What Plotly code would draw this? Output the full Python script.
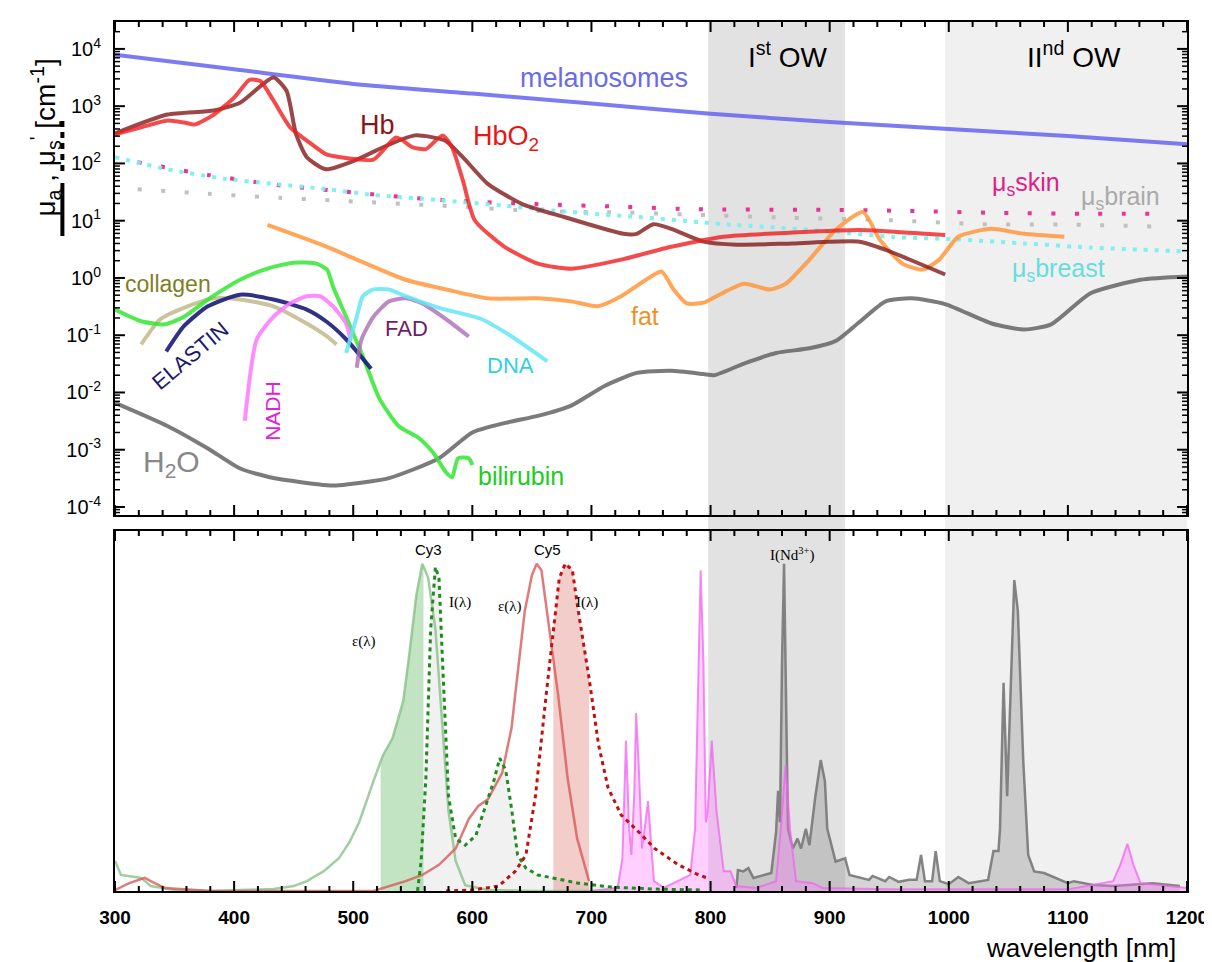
import plotly.graph_objects as go

# ---------------- top panel data (wavelength nm, coefficient cm^-1) ----------------
MEL_NM = [300, 400, 500, 600, 700, 800, 900, 1000, 1100, 1200]
MEL = [7900, 4400, 2450, 1660, 1110, 740, 530, 400, 300, 217]

HB_NM = [300, 344, 383, 405, 433, 444, 452, 461, 477, 502, 530, 552, 577, 592, 613, 642, 677,
         727, 738, 752, 767, 794, 822, 869, 925, 947, 967, 997]
HB = [334, 714, 840, 1148, 3162, 1862, 324, 129, 79, 114, 214, 309, 251, 129, 44, 19.5, 11.6,
      5.9, 5.9, 8.7, 7.2, 4.3, 3.8, 4.0, 4.3, 3.1, 2.1, 1.15]

HBO2_NM = [300, 322, 344, 358, 367, 383, 400, 413, 422, 433, 447, 461, 477, 488, 517, 536, 550,
           561, 575, 583, 592, 602, 627, 655, 683, 725, 767, 811, 869, 925, 980, 997]
HBO2 = [321, 427, 562, 519, 479, 714, 1413, 2884, 2754, 1259, 427, 251, 145, 129, 117, 285, 191,
        178, 309, 191, 51, 10.2, 3.5, 1.78, 1.45, 2.09, 3.5, 5.25, 6.2, 6.9, 5.9, 5.6]

FAT_NM = [428, 478, 503, 544, 578, 613, 655, 683, 705, 725, 750, 759, 769, 780, 794, 805, 828,
          850, 863, 883, 905, 928, 942, 961, 978, 992, 1008, 1036, 1063, 1097]
FAT = [8.45, 3.5, 2.09, 0.93, 0.63, 0.44, 0.44, 0.39, 0.32, 0.48, 1.06, 1.29, 0.63, 0.36, 0.37,
       0.48, 0.79, 0.63, 0.79, 2.09, 6.9, 14.1, 4.7, 1.78, 1.40, 2.09, 5.25, 7.2, 5.9, 5.25]

H2O_NM = [300, 344, 378, 405, 433, 478, 488, 530, 572, 600, 628, 655, 683, 711, 738, 767, 794,
          803, 828, 855, 883, 905, 925, 947, 969, 997, 1036, 1063, 1086, 1119, 1161, 1200]
H2O = [6.6e-3, 2.6e-3, 1.05e-3, 4.7e-4, 3.2e-4, 2.4e-4, 2.4e-4, 3.2e-4, 7.1e-4, 2.0e-3, 2.95e-3,
       3.9e-3, 5.9e-3, 0.013, 0.022, 0.024, 0.021, 0.020, 0.032, 0.049, 0.059, 0.079, 0.17, 0.39,
       0.44, 0.35, 0.16, 0.126, 0.155, 0.54, 0.93, 1.06]

BILI_NM = [300, 322, 342, 358, 378, 405, 428, 450, 469, 478, 483, 494, 508, 522, 538, 555, 567,
           578, 583, 588, 597, 600]
BILI = [0.28, 0.175, 0.155, 0.21, 0.42, 0.93, 1.46, 1.85, 1.78, 1.40, 0.71, 0.21, 0.043, 7.8e-3,
        2.6e-3, 1.6e-3, 8.9e-4, 4.0e-4, 3.3e-4, 7.1e-4, 7.1e-4, 5.4e-4]

COLL_NM = [322, 338, 361, 383, 405, 433, 461, 478, 486]
COLL = [0.069, 0.19, 0.32, 0.44, 0.42, 0.32, 0.16, 0.095, 0.069]

ELAS_NM = [343, 358, 378, 405, 433, 461, 478, 494, 515]
ELAS = [0.052, 0.145, 0.32, 0.51, 0.42, 0.28, 0.17, 0.085, 0.026]

NADH_NM = [409, 419, 433, 447, 461, 472, 483, 494, 498]
NADH = [3.2e-3, 0.085, 0.21, 0.36, 0.48, 0.48, 0.32, 0.16, 0.08]

FAD_NM = [503, 507, 517, 530, 544, 558, 578, 597]
FAD = [0.027, 0.085, 0.21, 0.39, 0.44, 0.36, 0.19, 0.095]

DNA_NM = [494, 503, 508, 517, 530, 544, 572, 608, 633, 663]
DNA = [0.049, 0.21, 0.48, 0.63, 0.63, 0.48, 0.30, 0.19, 0.095, 0.035]

SKIN_NM = [319, 378, 436, 494, 572, 653, 730, 790, 888, 967, 1046, 1124, 1183]
SKIN = [105, 63, 42, 32, 23, 19.5, 17.4, 15.8, 15.5, 14.8, 13.6, 13.2, 13.2]

BRAIN_NM = [319, 378, 438, 496, 575, 654, 732, 792, 869, 950, 1028, 1107, 1186]
BRAIN = [35.5, 29.5, 25.1, 21.9, 18.2, 14.8, 13.8, 12.6, 11.2, 10.2, 8.7, 8.5, 7.8]

BREAST_NM = [300, 344, 392, 433, 478, 517, 572, 628, 683, 738, 811, 897, 953, 1008, 1063, 1119, 1200]
BREAST = [129, 79, 54, 44, 35.5, 28.2, 22.9, 18.2, 14.1, 11.7, 8.7, 6.6, 5.2, 4.7, 4.0, 3.4, 2.9]

# ---------------- bottom panel data (normalised intensity) ----------------
CY3_EPS_NM = [300, 305, 311, 322, 330, 350, 380, 433, 450, 461, 475, 488, 497, 505, 517, 525, 533,
              542, 547, 553, 558, 563, 569, 575, 580, 586, 594, 613, 650, 720]
CY3_EPS = [0.092, 0.049, 0.046, 0.04, 0.015, 0.003, 0.0, 0.006, 0.015, 0.03, 0.06, 0.10, 0.15, 0.21,
           0.336, 0.415, 0.467, 0.58, 0.72, 0.905, 1.0, 0.956, 0.80, 0.50, 0.244, 0.092, 0.018,
           0.003, 0.0, 0.0]

CY3_EM_NM = [554, 557, 561, 565, 569, 572, 575, 580, 586, 594, 603, 611, 618, 623, 628, 633, 638,
             645, 655, 689, 717, 753, 794]
CY3_EM = [0.0, 0.092, 0.345, 0.80, 0.99, 0.956, 0.70, 0.29, 0.16, 0.14, 0.17, 0.26, 0.336, 0.406,
          0.37, 0.25, 0.11, 0.07, 0.049, 0.024, 0.012, 0.006, 0.003]

CY5_EPS_NM = [300, 312, 325, 330, 342, 380, 517, 544, 558, 572, 586, 597, 605, 613, 625, 633, 636,
              644, 650, 654, 658, 663, 672, 680, 688, 698]
CY5_EPS = [0.003, 0.024, 0.04, 0.03, 0.009, 0.0, 0.0, 0.03, 0.049, 0.08, 0.13, 0.22, 0.26, 0.28,
           0.36, 0.50, 0.60, 0.855, 0.965, 1.0, 0.98, 0.84, 0.60, 0.345, 0.16, 0.03]

CY5_EM_NM = [578, 600, 622, 636, 645, 653, 662, 668, 673, 678, 684, 689, 698, 706, 714, 725, 739,
             753, 773, 790, 797]
CY5_EM = [0.0, 0.003, 0.015, 0.06, 0.11, 0.29, 0.60, 0.80, 0.956, 1.0, 0.98, 0.855, 0.65, 0.446,
          0.315, 0.232, 0.183, 0.13, 0.08, 0.049, 0.04]

PINK_NM = [700, 722, 726, 729, 731.5, 733.5, 736, 737.5, 739.5, 742.5, 745, 747.5, 750, 752.5, 761,
           777.5, 783, 787, 790, 791.7, 794, 796, 797.5, 801, 805, 811, 816.7, 821.7, 838, 855, 859,
           863, 866.7, 871.7, 886, 894, 950, 1100, 1138, 1144, 1150, 1155, 1161, 1200]
PINK = [0.0, 0.01, 0.10, 0.46, 0.20, 0.11, 0.30, 0.544, 0.40, 0.13, 0.20, 0.275, 0.15, 0.03, 0.01,
        0.04, 0.049, 0.19, 0.70, 0.98, 0.70, 0.21, 0.24, 0.46, 0.245, 0.06, 0.06, 0.015, 0.009, 0.03,
        0.19, 0.385, 0.19, 0.03, 0.024, 0.009, 0.005, 0.005, 0.03, 0.08, 0.144, 0.08, 0.024, 0.009]

ND_NM = [821.7, 823, 827.5, 831.7, 836, 841.7, 846.7, 851, 855, 856.7, 858.3, 860, 861.7, 863, 865,
         869, 873, 876, 880, 883, 888, 892.5, 896, 898, 902.5, 905, 913, 916.7, 933, 936, 946.7, 950,
         958, 966.7, 973, 976.7, 980, 986, 989, 992.5, 1000, 1008, 1016.7, 1033, 1037.5, 1041.7, 1043,
         1046, 1049, 1051, 1055, 1058, 1062.5, 1066.7, 1071.7, 1080, 1086, 1100, 1105, 1122, 1138,
         1171, 1194]
ND = [0.009, 0.064, 0.06, 0.07, 0.04, 0.046, 0.049, 0.055, 0.18, 0.306, 0.21, 0.70, 1.0, 0.70, 0.19,
      0.13, 0.16, 0.13, 0.19, 0.14, 0.29, 0.40, 0.336, 0.19, 0.125, 0.09, 0.10, 0.049, 0.034, 0.046,
      0.03, 0.043, 0.028, 0.034, 0.034, 0.11, 0.03, 0.03, 0.122, 0.03, 0.021, 0.043, 0.024, 0.034,
      0.122, 0.122, 0.19, 0.636, 0.29, 0.50, 0.95, 0.856, 0.40, 0.11, 0.06, 0.055, 0.046, 0.024, 0.03,
      0.018, 0.015, 0.024, 0.015]

OW1 = (798, 913)
OW2 = (997, 1200)
CY3_BAND = (523, 559)
CY5_BAND = (668, 698)

# ---------------- helpers ----------------
SANS = "Arial, Liberation Sans, sans-serif"
SERIF = "Times New Roman, Liberation Serif, serif"
L, R, T, B = 107, 1187, 14, 883
TOP_BOTTOM_PX, BOT_TOP_PX = 507, 523


def px(x):
    return (x - L) / (R - L)


def py(y):
    return (B - y) / (B - T)


def band(xs, ys, lo, hi):
    import numpy as np
    xs = np.asarray(xs, float)
    ys = np.asarray(ys, float)
    inner = (xs > lo) & (xs < hi)
    bx = [lo] + list(xs[inner]) + [hi]
    by = [float(np.interp(lo, xs, ys))] + list(ys[inner]) + [float(np.interp(hi, xs, ys))]
    return [lo] + bx + [hi], [0] + by + [0]


fig = go.Figure()


def top_line(x, y, color, width=4, dash=None):
    fig.add_trace(go.Scatter(x=x, y=y, mode="lines", xaxis="x", yaxis="y",
                             line=dict(color=color, width=width, dash=dash, shape="spline",
                                       smoothing=0.6),
                             hoverinfo="skip"))


top_line(SKIN_NM, SKIN, "rgba(235,40,140,0.95)", 4, "4px,19.5px")
top_line(BRAIN_NM, BRAIN, "rgba(190,190,190,0.95)", 4, "4px,19.5px")
top_line(BREAST_NM, BREAST, "rgba(120,240,240,0.95)", 4, "4px,7px")
top_line(MEL_NM, MEL, "rgba(100,100,240,0.85)")
top_line(H2O_NM, H2O, "rgba(100,100,100,0.85)")
top_line(FAT_NM, FAT, "rgba(255,150,60,0.85)")
top_line(HB_NM, HB, "rgba(130,25,25,0.8)")
top_line(HBO2_NM, HBO2, "rgba(240,30,30,0.8)")
top_line(COLL_NM, COLL, "rgba(190,180,130,0.8)")
top_line(BILI_NM, BILI, "rgba(50,230,50,0.85)")
top_line(ELAS_NM, ELAS, "rgba(25,25,120,0.9)")
top_line(NADH_NM, NADH, "rgba(255,120,255,0.85)")
top_line(FAD_NM, FAD, "rgba(170,110,180,0.8)")
top_line(DNA_NM, DNA, "rgba(100,230,245,0.85)")


# bottom panel
def bot(x, y, color, width=2.5, dash=None, fill=None, fillcolor=None):
    fig.add_trace(go.Scatter(x=x, y=y, mode="lines", xaxis="x2", yaxis="y2",
                             line=dict(color=color, width=width, dash=dash),
                             fill=fill, fillcolor=fillcolor, hoverinfo="skip"))


bot(CY3_EM_NM, CY3_EM, "rgba(0,0,0,0)", 0, None, "tozeroy", "rgba(225,225,225,0.45)")
bx, by = band(CY3_EPS_NM, CY3_EPS, *CY3_BAND)
bot(bx, by, "rgba(0,0,0,0)", 0, None, "toself", "rgba(120,195,120,0.45)")
bx, by = band(CY5_EM_NM, CY5_EM, *CY5_BAND)
bot(bx, by, "rgba(0,0,0,0)", 0, None, "toself", "rgba(225,130,120,0.4)")
bot(ND_NM, ND, "rgba(120,120,120,0.9)", 2.5, None, "tozeroy", "rgba(150,150,150,0.4)")
bot(PINK_NM, PINK, "rgba(240,100,240,0.75)", 2, None, "tozeroy", "rgba(255,120,255,0.35)")
bot(CY3_EPS_NM, CY3_EPS, "rgba(130,190,130,0.75)", 2.5)
bot(CY5_EPS_NM, CY5_EPS, "rgba(215,90,90,0.8)", 2.5)
bot(CY3_EM_NM, CY3_EM, "#1E8C1E", 3, "4px,4px")
bot(CY5_EM_NM, CY5_EM, "#C01010", 3, "4px,4px")

# ---------------- layout ----------------
major_y = [10 ** k for k in range(-4, 5)]
major_txt = ["10<sup>%d</sup>" % k for k in range(-4, 5)]
minor_y = [m * 10 ** k for k in range(-5, 5) for m in range(2, 10)
           if 10 ** -4.14 < m * 10 ** k < 10 ** 4.47]

frame = dict(showline=True, linecolor="black", linewidth=2, mirror=True, showgrid=False,
             zeroline=False, ticks="")

fig.update_layout(
    width=1212, height=962,
    margin=dict(l=L, r=1212 - R, t=T, b=962 - B),
    paper_bgcolor="white", plot_bgcolor="rgba(0,0,0,0)",
    showlegend=False,
    font=dict(family=SANS, color="black"),
    xaxis=dict(domain=[0, 1], anchor="y", range=[300, 1200], showticklabels=False, **frame),
    yaxis=dict(domain=[py(TOP_BOTTOM_PX), 1], anchor="x", type="log", range=[-4.14, 4.47],
               tickmode="array", tickvals=major_y, ticktext=major_txt, ticklabelstandoff=8,
               tickfont=dict(size=20, family=SANS), **frame),
    xaxis2=dict(domain=[0, 1], anchor="y2", range=[300, 1200], tickmode="linear", dtick=100,
                tick0=0, ticklabelstandoff=8,
                tickfont=dict(size=19, family=SANS, weight="bold"), **frame),
    yaxis2=dict(domain=[0, py(BOT_TOP_PX)], anchor="x2", range=[0, 1.1], showticklabels=False,
                **frame),
)

# ---- inside tick marks drawn as shapes on all four sides of each panel ----
shapes = []
tick_line = dict(color="black", width=2)
for xref, yref, h_px in (("x", "y domain", B - T - (B - TOP_BOTTOM_PX) - 0),
                         ("x2", "y2 domain", B - BOT_TOP_PX)):
    for v in range(300, 1201, 20):
        ln = (10 if v % 100 == 0 else 5) / h_px
        shapes.append(dict(type="line", xref=xref, yref=yref, x0=v, x1=v, y0=0, y1=ln,
                           line=tick_line, layer="above"))
        shapes.append(dict(type="line", xref=xref, yref=yref, x0=v, x1=v, y0=1, y1=1 - ln,
                           line=tick_line, layer="above"))
w_px = R - L
for vals, ln_px, wd in ((major_y, 10, 2), (minor_y, 5, 1.5)):
    ln = ln_px / w_px
    for v in vals:
        shapes.append(dict(type="line", xref="x domain", yref="y", x0=0, x1=ln, y0=v, y1=v,
                           line=dict(color="black", width=wd), layer="above"))
        shapes.append(dict(type="line", xref="x domain", yref="y", x0=1, x1=1 - ln, y0=v, y1=v,
                           line=dict(color="black", width=wd), layer="above"))

shapes.append(dict(type="rect", xref="x", yref="paper", x0=OW1[0], x1=OW1[1], y0=0, y1=1,
                   fillcolor="#E2E2E2", line=dict(width=0), layer="below"))
shapes.append(dict(type="rect", xref="x", yref="paper", x0=OW2[0], x1=OW2[1], y0=0, y1=1,
                   fillcolor="#F0F0F0", line=dict(width=0), layer="below"))
# y-axis title with line-style keys
shapes.append(dict(type="line", xref="paper", yref="paper", x0=px(54), x1=px(54), y0=py(228),
                   y1=py(175), line=dict(color="black", width=4)))
shapes.append(dict(type="line", xref="paper", yref="paper", x0=px(54), x1=px(54), y0=py(163),
                   y1=py(111), line=dict(color="black", width=4, dash="6px,5px")))
fig.update_layout(shapes=shapes)


def ann(x, y, text, size, color="black", family=SANS, angle=0):
    fig.add_annotation(x=px(x), y=py(y), xref="paper", yref="paper", text=text, showarrow=False,
                       xanchor="center", yanchor="middle", textangle=angle,
                       font=dict(size=size, color=color, family=family))


ann(37, 130, "μ<sub>a</sub> , μ<sub>s</sub><sup>'</sup> [cm<sup>-1</sup>]", 28, angle=-90)
ann(785, 47, "I<sup>st</sup> OW", 28)
ann(1073, 47, "II<sup>nd</sup> OW", 28)
ann(600, 70, "melanosomes", 27, "#6B6BE8")
ann(371, 117, "Hb", 27, "#8B1515")
ann(501, 130, "HbO<sub>2</sub>", 27, "#E81515")
ann(1025, 176, "μ<sub>s</sub>skin", 25, "#E0208A")
ann(1120, 190, "μ<sub>s</sub>brain", 25, "#AAAAAA")
ann(1058, 262, "μ<sub>s</sub>breast", 25, "#66DDDD")
ann(641, 308, "fat", 25, "#F0902A")
ann(160, 276, "collagen", 23, "#7F7F1F")
ann(183, 347, "ELASTIN", 22, "#1A1A70", angle=-40)
ann(265, 403, "NADH", 21, "#E020E0", angle=-90)
ann(401, 321, "FAD", 22, "#6B1F6B")
ann(505, 357, "DNA", 22, "#30D0E0")
ann(516, 468, "bilirubin", 25, "#20CC20")
ann(164, 455, "H<sub>2</sub>O", 30, "#888888")

ann(423, 541, "Cy3", 15)
ann(543, 541, "Cy5", 15)
ann(358, 633, "ε(λ)", 15, family=SERIF)
ann(455, 594, "I(λ)", 15, family=SERIF)
ann(505, 598, "ε(λ)", 15, family=SERIF)
ann(583, 594, "I(λ)", 15, family=SERIF)
ann(790, 546, "I(Nd<sup>3+</sup>)", 15, family=SERIF)

fig.add_annotation(x=px(1178), y=py(940), xref="paper", yref="paper", text="wavelength [nm]",
                   showarrow=False, xanchor="right", yanchor="middle",
                   font=dict(size=26, family=SANS, color="black"))

fig.write_html("out.html")
